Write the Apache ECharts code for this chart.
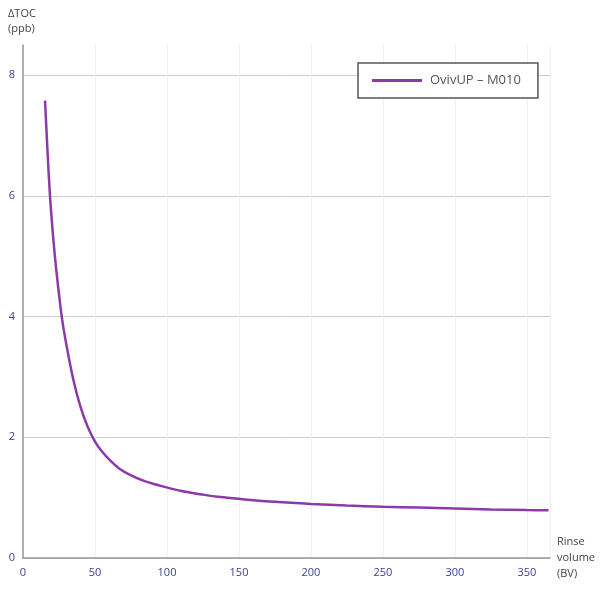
<!DOCTYPE html>
<html>
<head>
<meta charset="utf-8">
<script src="https://cdn.jsdelivr.net/npm/echarts@6/dist/echarts.min.js"></script>
<style>html,body{margin:0;padding:0;background:#fff}#c{width:606px;height:599px}</style>
</head>
<body>
<div id="c"></div>
<script>
const seriesName = 'OvivUP – M010';
const xValues = [15.3, 17, 18.75, 21, 23, 26.9, 30, 35, 40, 45, 50, 55, 60, 67, 75, 85, 95, 110, 125, 137, 150, 175, 200, 225, 250, 275, 300, 325, 350, 365];
const yValues = [7.58, 6.75, 6.0, 5.3, 4.8, 4.0, 3.55, 2.95, 2.5, 2.17, 1.93, 1.76, 1.63, 1.48, 1.37, 1.27, 1.2, 1.11, 1.05, 1.01, 0.98, 0.93, 0.895, 0.87, 0.85, 0.835, 0.82, 0.805, 0.795, 0.79];
const xTicks = [0, 50, 100, 150, 200, 250, 300, 350];
const yTicks = [0, 2, 4, 6, 8];

const font = 'Open Sans';
const chart = echarts.init(document.getElementById('c'));
chart.setOption({
  animation: false,
  backgroundColor: '#fff',
  grid: { left: 23, right: 56, top: 45, bottom: 41, containLabel: false, outerBoundsMode: 'none' },
  legend: {
    data: [seriesName],
    left: 358, top: 63,
    icon: 'rect',
    itemWidth: 50, itemHeight: 3,
    padding: [11, 17, 11, 14],
    backgroundColor: '#fff',
    borderColor: '#555', borderWidth: 1.5,
    textStyle: { color: '#555', fontSize: 13, fontFamily: font, padding: [0, 0, 0, 3] }
  },
  xAxis: {
    type: 'value', min: 0, max: 366, interval: 50,
    name: 'Rinse\nvolume\n(BV)', nameLocation: 'end', nameGap: 7,
    nameTextStyle: { color: '#444', fontSize: 11, fontFamily: font, align: 'left', lineHeight: 16 },
    axisLine: { lineStyle: { color: '#999', width: 1.5 } },
    axisTick: { show: false },
    axisLabel: { color: '#3d3d8f', fontSize: 11, fontFamily: font, margin: 9, showMaxLabel: false,
      formatter: v => xTicks.includes(v) ? String(v) : '' },
    splitLine: { show: true, lineStyle: { color: '#f0f0f0', width: 1 } }
  },
  yAxis: {
    type: 'value', min: 0, max: 8.5, interval: 2,
    name: 'ΔTOC\n(ppb)', nameLocation: 'end', nameGap: 9,
    nameTextStyle: { color: '#444', fontSize: 11, fontFamily: font, align: 'left', lineHeight: 15, padding: [0, 0, 0, -15] },
    axisLine: { show: true, lineStyle: { color: '#999', width: 1.5 } },
    axisTick: { show: false },
    axisLabel: { color: '#3d3d8f', fontSize: 11, fontFamily: font, margin: 8, showMaxLabel: false,
      formatter: v => yTicks.includes(v) ? String(v) : '' },
    splitLine: { show: true, lineStyle: { color: ['#cccccc', '#cccccc', '#cccccc', '#cccccc', '#cccccc', 'rgba(0,0,0,0)'], width: 1 } }
  },
  series: [{
    name: seriesName,
    type: 'line',
    data: xValues.map((x, i) => [x, yValues[i]]),
    smooth: 0.3,
    showSymbol: false,
    lineStyle: { color: '#8b3aa8', width: 2.5 },
    itemStyle: { color: '#8b3aa8' }
  }]
});
</script>
</body>
</html>
